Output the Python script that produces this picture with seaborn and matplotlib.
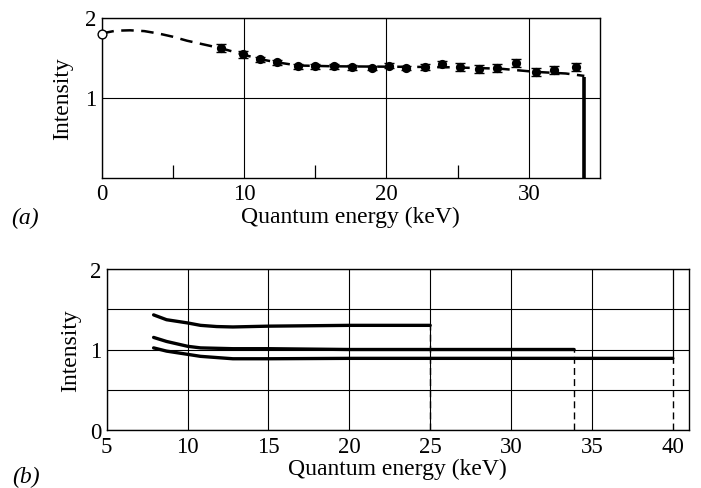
import matplotlib
matplotlib.use("Agg")
import matplotlib.pyplot as plt
import seaborn as sns

sns.set_theme(style="white")
plt.rcParams["font.family"] = ["Liberation Serif", "DejaVu Serif"]
plt.rcParams["mathtext.fontset"] = "stix"

# ---- (a) measured spectrum with error bars ----
energy_a = [8.4, 9.9, 11.1, 12.3, 13.8, 15.0, 16.3, 17.6, 19.0, 20.2,
            21.4, 22.7, 23.9, 25.2, 26.5, 27.8, 29.1, 30.5, 31.8, 33.3]
intensity_a = [1.615, 1.54, 1.48, 1.44, 1.39, 1.39, 1.39, 1.38, 1.37, 1.40,
               1.37, 1.385, 1.42, 1.38, 1.36, 1.37, 1.43, 1.32, 1.34, 1.38]
error_a = [0.05, 0.04, 0.03, 0.03, 0.03, 0.03, 0.03, 0.03, 0.03, 0.03,
           0.03, 0.04, 0.04, 0.05, 0.05, 0.05, 0.05, 0.05, 0.05, 0.05]

# smooth fitted curve (dashed), starting from the extrapolated zero-energy value
fit_energy = [0, 1, 2, 3, 4, 5, 6, 7, 8.4, 9.9, 11.1, 12.3, 13.8, 16.3,
              20.2, 24.0, 28.0, 30.5, 32.6, 33.9]
fit_intensity = [1.80, 1.835, 1.84, 1.83, 1.80, 1.76, 1.71, 1.67, 1.615, 1.54,
                 1.48, 1.44, 1.40, 1.39, 1.385, 1.38, 1.36, 1.32, 1.30, 1.27]
zero_energy = [0]
zero_intensity = [1.80]

# spectrum end point (tube voltage limit)
cutoff_a = [33.9]
cutoff_a_level = [1.26]

# ---- (b) computed spectra for three tube voltages ----
curve1_x = [7.9, 8.7, 10.0, 10.8, 11.8, 12.8, 15.0, 20.0, 25.0]
curve1_y = [1.43, 1.37, 1.33, 1.30, 1.285, 1.28, 1.29, 1.30, 1.30]
curve2_x = [7.9, 8.7, 10.0, 10.8, 12.8, 15.0, 20.0, 25.0, 30.0, 33.9]
curve2_y = [1.15, 1.10, 1.04, 1.02, 1.01, 1.01, 1.00, 1.00, 1.00, 1.00]
curve3_x = [7.9, 8.7, 10.0, 10.8, 12.8, 15.0, 20.0, 30.0, 40.0]
curve3_y = [1.02, 0.98, 0.94, 0.915, 0.885, 0.885, 0.89, 0.89, 0.89]
curves_b = [(curve1_x, curve1_y), (curve2_x, curve2_y), (curve3_x, curve3_y)]

xticks_a = [0, 10, 20, 30]
minor_xticks_a = [5, 15, 25]
yticks_a = [1, 2]
xticks_b = [5, 10, 15, 20, 25, 30, 35, 40]
yticks_b = [0, 1, 2]
minor_yticks_b = [0.5, 1.5]

W, H = 701, 489
fig = plt.figure(figsize=(W / 100, H / 100), dpi=100)
fig.patch.set_facecolor("white")

ax_a = fig.add_axes([101.5 / W, 1 - 178.5 / H, 498.5 / W, 160 / H])
ax_b = fig.add_axes([106.7 / W, 1 - 431 / H, 582.3 / W, 161 / H])

tick_fs = 16.5
label_fs = 17

for ax in (ax_a, ax_b):
    ax.set_facecolor("white")
    for sp in ax.spines.values():
        sp.set_color("black")
        sp.set_linewidth(1.0)

# ---------------- panel (a) ----------------
sns.lineplot(x=fit_energy, y=fit_intensity, ax=ax_a, color="black",
             linewidth=1.8, linestyle=(0, (5, 3)), estimator=None, sort=False,
             zorder=3)
ax_a.errorbar(energy_a, intensity_a, yerr=error_a, fmt="none",
              ecolor="black", elinewidth=1.0, capsize=3.4, capthick=1.0,
              zorder=4)
sns.scatterplot(x=energy_a, y=intensity_a, ax=ax_a, color="black", s=44,
                edgecolor="black", linewidth=0, zorder=5)
sns.scatterplot(x=zero_energy, y=zero_intensity, ax=ax_a, facecolor="white",
                edgecolor="black", s=40, linewidth=1.0, zorder=6,
                clip_on=False)
ax_a.vlines(cutoff_a, 0, cutoff_a_level, color="black", linewidth=2.6,
            zorder=4)

ax_a.set_xlim(0, 35)
ax_a.set_ylim(0, 2)
ax_a.set_xticks(xticks_a)
ax_a.set_xticks(minor_xticks_a, minor=True)
ax_a.set_yticks(yticks_a)
ax_a.set_xticklabels([str(v) for v in xticks_a], fontsize=tick_fs)
ax_a.set_yticklabels([str(v) for v in yticks_a], fontsize=tick_fs)
ax_a.tick_params(axis="both", which="major", length=0, pad=4, colors="black")
ax_a.tick_params(axis="x", which="minor", direction="in", length=9.5,
                 width=0.9, color="black", bottom=True)
ax_a.grid(True, which="major", color="black", linewidth=0.8)
ax_a.set_axisbelow(True)
ax_a.set_xlabel("Quantum energy (keV)", fontsize=label_fs, labelpad=1,
                color="black")
ax_a.set_ylabel("Intensity", fontsize=label_fs, labelpad=8, color="black")

# ---------------- panel (b) ----------------
for cx, cy in curves_b:
    sns.lineplot(x=cx, y=cy, ax=ax_b, color="black", linewidth=2.4,
                 estimator=None, sort=False, zorder=4)
    # drop to zero at the spectrum end point
    ax_b.vlines(cx[-1], 0, cy[-1], color="black", linewidth=1.0,
                linestyles=(0, (5, 3)), zorder=3)

ax_b.set_xlim(5, 41)
ax_b.set_ylim(0, 2)
ax_b.set_xticks(xticks_b)
ax_b.set_yticks(yticks_b)
ax_b.set_yticks(minor_yticks_b, minor=True)
ax_b.set_xticklabels([str(v) for v in xticks_b], fontsize=tick_fs)
ax_b.set_yticklabels([str(v) for v in yticks_b], fontsize=tick_fs)
ax_b.tick_params(axis="both", which="both", length=0, pad=4, colors="black")
ax_b.grid(True, axis="x", which="major", color="black", linewidth=0.8)
ax_b.grid(True, axis="y", which="both", color="black", linewidth=0.8)
ax_b.set_axisbelow(True)
# the 40 keV line only runs from the lowest spectrum up to the frame
ax_b.get_xgridlines()[-1].set_visible(False)
ax_b.axvline(curve3_x[-1], ymin=curve3_y[-1] / 2, ymax=1, color="black",
             linewidth=0.9, zorder=3)
ax_b.set_xlabel("Quantum energy (keV)", fontsize=label_fs, labelpad=1,
                color="black")
ax_b.set_ylabel("Intensity", fontsize=label_fs, labelpad=6, color="black")

# panel tags
fig.text(25 / W, 1 - 218 / H, "(a)", fontsize=label_fs, style="italic",
         ha="center", va="center", color="black")
fig.text(26 / W, 1 - 477 / H, "(b)", fontsize=label_fs, style="italic",
         ha="center", va="center", color="black")

fig.savefig("out.png", dpi=100, facecolor="white")
